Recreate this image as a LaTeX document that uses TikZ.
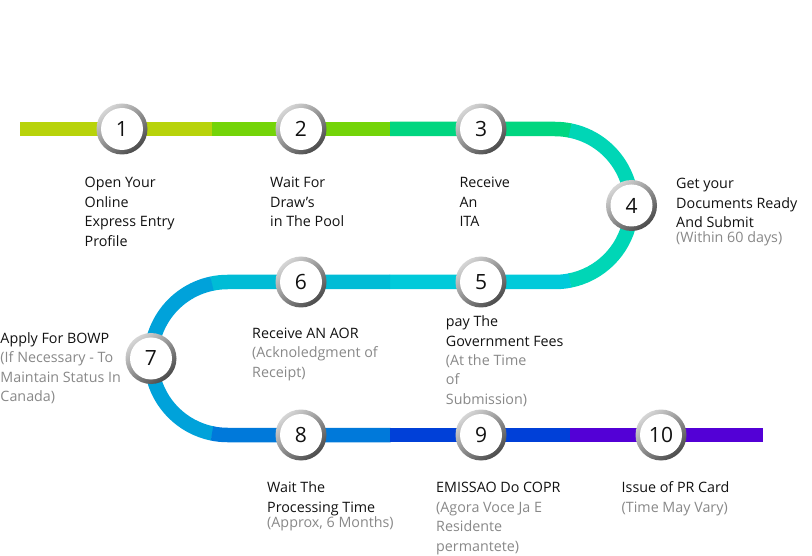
\documentclass[tikz,border=0pt]{standalone}
\usepackage{fontspec}
\setmainfont{Open Sans}
\definecolor{c1}{HTML}{B8D30B}
\definecolor{c2}{HTML}{74D408}
\definecolor{c3}{HTML}{00D680}
\definecolor{c4}{HTML}{00D6B6}
\definecolor{c5}{HTML}{00CADA}
\definecolor{c6}{HTML}{00BCD6}
\definecolor{c7}{HTML}{00A2DA}
\definecolor{c8}{HTML}{0079DA}
\definecolor{c9}{HTML}{0040D8}
\definecolor{c10}{HTML}{5300D6}
\definecolor{txtblack}{HTML}{111111}
\definecolor{txtgray}{HTML}{888888}
\definecolor{ringlight}{HTML}{D6D6D6}
\definecolor{ringdark}{HTML}{4A4A4A}
\tikzset{
  track/.style={line width=14.5pt, line cap=butt},
  ringshade/.style={top color=ringlight, bottom color=ringdark, shading angle=40},
  stepnode/.style={circle, fill=white, minimum size=42pt, inner sep=0pt,
    text=txtblack, font=\fontsize{21}{21}\selectfont},
  lbl/.style={anchor=base west, inner sep=0pt, text=txtblack,
    font=\fontsize{14.3}{16}\selectfont},
  sub/.style={lbl, text=txtgray}
}
\begin{document}
\begin{tikzpicture}[x=1pt,y=-1pt]
\useasboundingbox (0,0) rectangle (812,556);
% track
\draw[track,c1] (20,129) -- (212.5,129);
\draw[track,c2] (212,129) -- (390.5,129);
\draw[track,c3] (390,129) -- (555,129) arc[start angle=-90,end angle=-78.3,radius=76.5];
\draw[track,c4] (555,205.5) ++(-78.7:76.5) arc[start angle=-78.7,end angle=79.1,radius=76.5];
\draw[track,c5] (555,205.5) ++(78.7:76.5) arc[start angle=78.7,end angle=90,radius=76.5] -- (389.5,282);
\draw[track,c6] (390,282) -- (227.5,282) arc[start angle=270,end angle=257.9,radius=76.5];
\draw[track,c7] (227.5,358.5) ++(258.3:76.5) arc[start angle=258.3,end angle=101.3,radius=76.5];
\draw[track,c8] (227.5,358.5) ++(101.7:76.5) arc[start angle=101.7,end angle=90,radius=76.5] -- (390.5,435);
\draw[track,c9] (390,435) -- (570.5,435);
\draw[track,c10] (570,435) -- (763,435);
% step circles
\foreach \n/\x/\y in {1/122/129, 2/301/129, 3/481/129, 4/631.5/205.5, 5/481/282,
    6/301/282, 7/151/358.5, 8/301/435, 9/481/435, 10/661/435} {
  \shade[ringshade] (\x,\y) circle[radius=25.5];
  \node[stepnode] (s\n) at (\x,\y) {\n};
}
% labels
\node[lbl] (l1a) at (84.5,187.5) {Open Your};
\node[lbl] (l1b) at (84.5,207.2) {Online};
\node[lbl] (l1c) at (84.5,226.9) {Express Entry};
\node[lbl] (l1d) at (84.5,246.6) {Profile};
\node[lbl] (l2a) at (270,187.5) {Wait For};
\node[lbl] (l2b) at (270,207.2) {Draw’s};
\node[lbl] (l2c) at (270,226.9) {in The Pool};
\node[lbl] (l3a) at (459.3,187.5) {Receive};
\node[lbl] (l3b) at (459.3,207.2) {An};
\node[lbl] (l3c) at (459.3,226.9) {ITA};
\node[lbl] (l4a) at (676,188.5) {Get your};
\node[lbl] (l4b) at (676,208.2) {Documents Ready};
\node[lbl] (l4c) at (676,227.9) {And Submit};
\node[sub] (l4d) at (676,243) {(Within 60 days)};
\node[lbl] (l5a) at (445.7,326.7) {pay The};
\node[lbl] (l5b) at (445.7,346.5) {Government Fees};
\node[sub] (l5c) at (445.7,365) {(At the Time};
\node[sub] (l5d) at (445.7,384.7) {of};
\node[sub] (l5e) at (445.7,404.4) {Submission)};
\node[lbl] (l6a) at (252,338.3) {Receive AN AOR};
\node[sub] (l6b) at (252,357.8) {(Acknoledgment of};
\node[sub] (l6c) at (252,377.3) {Receipt)};
\node[lbl] (l7a) at (0.3,343.3) {Apply For BOWP};
\node[sub] (l7b) at (0.3,362.6) {(If Necessary - To};
\node[sub] (l7c) at (0.3,382.2) {Maintain Status In};
\node[sub] (l7d) at (0.3,401.8) {Canada)};
\node[lbl] (l8a) at (267,492.7) {Wait The};
\node[lbl] (l8b) at (267,512) {Processing Time};
\node[sub] (l8c) at (267,527.5) {(Approx, 6 Months)};
\node[lbl] (l9a) at (436,492.7) {EMISSAO Do COPR};
\node[sub] (l9b) at (436,512) {(Agora Voce Ja E};
\node[sub] (l9c) at (436,531.7) {Residente};
\node[sub] (l9d) at (436,551.2) {permantete)};
\node[lbl] (l10a) at (621.5,492.7) {Issue of PR Card};
\node[sub] (l10b) at (621.5,512) {(Time May Vary)};
\end{tikzpicture}
\end{document}
